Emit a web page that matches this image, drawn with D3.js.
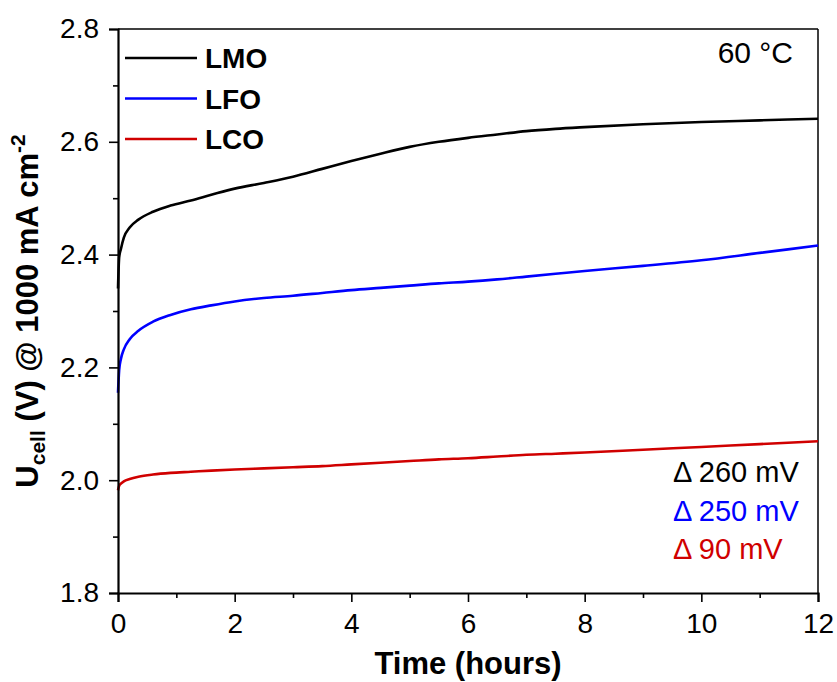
<!DOCTYPE html>
<html><head><meta charset="utf-8">
<script src="https://cdn.jsdelivr.net/npm/d3@7/dist/d3.min.js"></script>
<style>body{margin:0;background:#fff}svg{display:block}text{font-family:"Liberation Sans",Arial,sans-serif}</style>
</head><body><svg id="c" width="837" height="682"></svg>
<script>
const times = [0, 0.02, 0.05, 0.1, 0.2, 0.35, 0.6, 0.9, 1.25, 1.6, 2, 2.5, 3, 3.5, 4, 4.5, 5, 5.5, 6, 6.5, 7, 7.5, 8, 9, 10, 11, 12];
const lmo = [2.340, 2.395, 2.410, 2.430, 2.448, 2.462, 2.476, 2.487, 2.496, 2.506, 2.517, 2.527, 2.538, 2.552, 2.566, 2.579, 2.591, 2.600, 2.607, 2.613, 2.619, 2.623, 2.626, 2.631, 2.635, 2.638, 2.641];
const lfo = [2.155, 2.195, 2.215, 2.232, 2.250, 2.265, 2.281, 2.293, 2.303, 2.310, 2.317, 2.323, 2.327, 2.332, 2.337, 2.341, 2.345, 2.349, 2.352, 2.356, 2.361, 2.366, 2.371, 2.380, 2.390, 2.403, 2.416];
const lco = [1.982, 1.990, 1.994, 1.998, 2.002, 2.006, 2.010, 2.013, 2.015, 2.017, 2.019, 2.021, 2.023, 2.025, 2.028, 2.031, 2.034, 2.037, 2.039, 2.042, 2.045, 2.047, 2.049, 2.054, 2.059, 2.064, 2.069];
const seriesNames = ["LMO", "LFO", "LCO"];
const seriesColors = ["#000000", "#0000ff", "#d00000"];
const deltaLabels = ["\u0394 260 mV", "\u0394 250 mV", "\u0394 90 mV"];
const xTicks = [0, 2, 4, 6, 8, 10, 12];
const yTicks = [1.8, 2.0, 2.2, 2.4, 2.6, 2.8];

const svg = d3.select("#c");
const L = 118, R = 818, T = 29, B = 593;
const x = d3.scaleLinear().domain([0, 12]).range([L, R]);
const y = d3.scaleLinear().domain([1.8, 2.8]).range([B, T]);

// frame
svg.append("line").attr("x1", L).attr("x2", R).attr("y1", T).attr("y2", T).attr("stroke", "#000").attr("stroke-width", 1.3);
svg.append("line").attr("x1", R).attr("x2", R).attr("y1", T).attr("y2", B).attr("stroke", "#000").attr("stroke-width", 1.5);

// data
const values = [lmo, lfo, lco];
const line = d3.line().x(d => x(d[0])).y(d => y(d[1])).curve(d3.curveMonotoneX);
values.forEach((vals, i) => {
  svg.append("path").datum(times.map((t, j) => [t, vals[j]]))
    .attr("d", line).attr("fill", "none").attr("stroke", seriesColors[i]).attr("stroke-width", 2.6);
});

// axes
svg.append("g").attr("transform", `translate(0,${B})`)
  .call(d3.axisBottom(x).tickValues(xTicks).tickSize(9).tickPadding(11).tickFormat(d3.format("d")));
svg.append("g").attr("transform", `translate(0,${B})`)
  .call(d3.axisBottom(x).tickValues(d3.range(1, 12, 2)).tickSize(5).tickFormat(""))
  .call(g => g.select(".domain").remove());
svg.append("g").attr("transform", `translate(${L},0)`)
  .call(d3.axisLeft(y).tickValues(yTicks).tickSize(9).tickPadding(10).tickFormat(d3.format(".1f")));
svg.append("g").attr("transform", `translate(${L},0)`)
  .call(d3.axisLeft(y).tickValues([1.9, 2.1, 2.3, 2.5, 2.7]).tickSize(5).tickFormat(""))
  .call(g => g.select(".domain").remove());
svg.selectAll(".domain").attr("stroke-width", 2.2);
svg.selectAll(".tick line").attr("stroke-width", 1.6);
svg.selectAll(".tick text").attr("font-size", 28).attr("fill", "#000").attr("font-family", "Liberation Sans, Arial, sans-serif");

// axis titles
svg.append("text").attr("x", 468).attr("y", 674).attr("text-anchor", "middle")
  .attr("font-size", 31).attr("font-weight", "bold").text("Time (hours)");
const yt = svg.append("text").attr("transform", "translate(38,311) rotate(-90)").attr("text-anchor", "middle")
  .attr("font-size", 31).attr("font-weight", "bold");
yt.append("tspan").text("U");
yt.append("tspan").attr("font-size", 21).attr("dy", 7).text("cell");
yt.append("tspan").attr("dy", -7).text(" (V) @ 1000 mA cm");
yt.append("tspan").attr("font-size", 21).attr("dy", -13).text("-2");

// legend
seriesNames.forEach((n, i) => {
  const ly = 58 + i * 40.5;
  svg.append("line").attr("x1", 125).attr("x2", 197).attr("y1", ly).attr("y2", ly)
    .attr("stroke", seriesColors[i]).attr("stroke-width", 2.6);
  svg.append("text").attr("x", 205).attr("y", ly + 10).attr("font-size", 28).attr("font-weight", "bold").text(n);
});

// annotations
svg.append("text").attr("x", 793).attr("y", 63).attr("text-anchor", "end").attr("font-size", 30).text("60 \u00B0C");
deltaLabels.forEach((t, i) => {
  svg.append("text").attr("x", 673).attr("y", 482 + i * 38.5).attr("font-size", 29)
    .attr("fill", seriesColors[i]).text(t);
});
</script></body></html>
